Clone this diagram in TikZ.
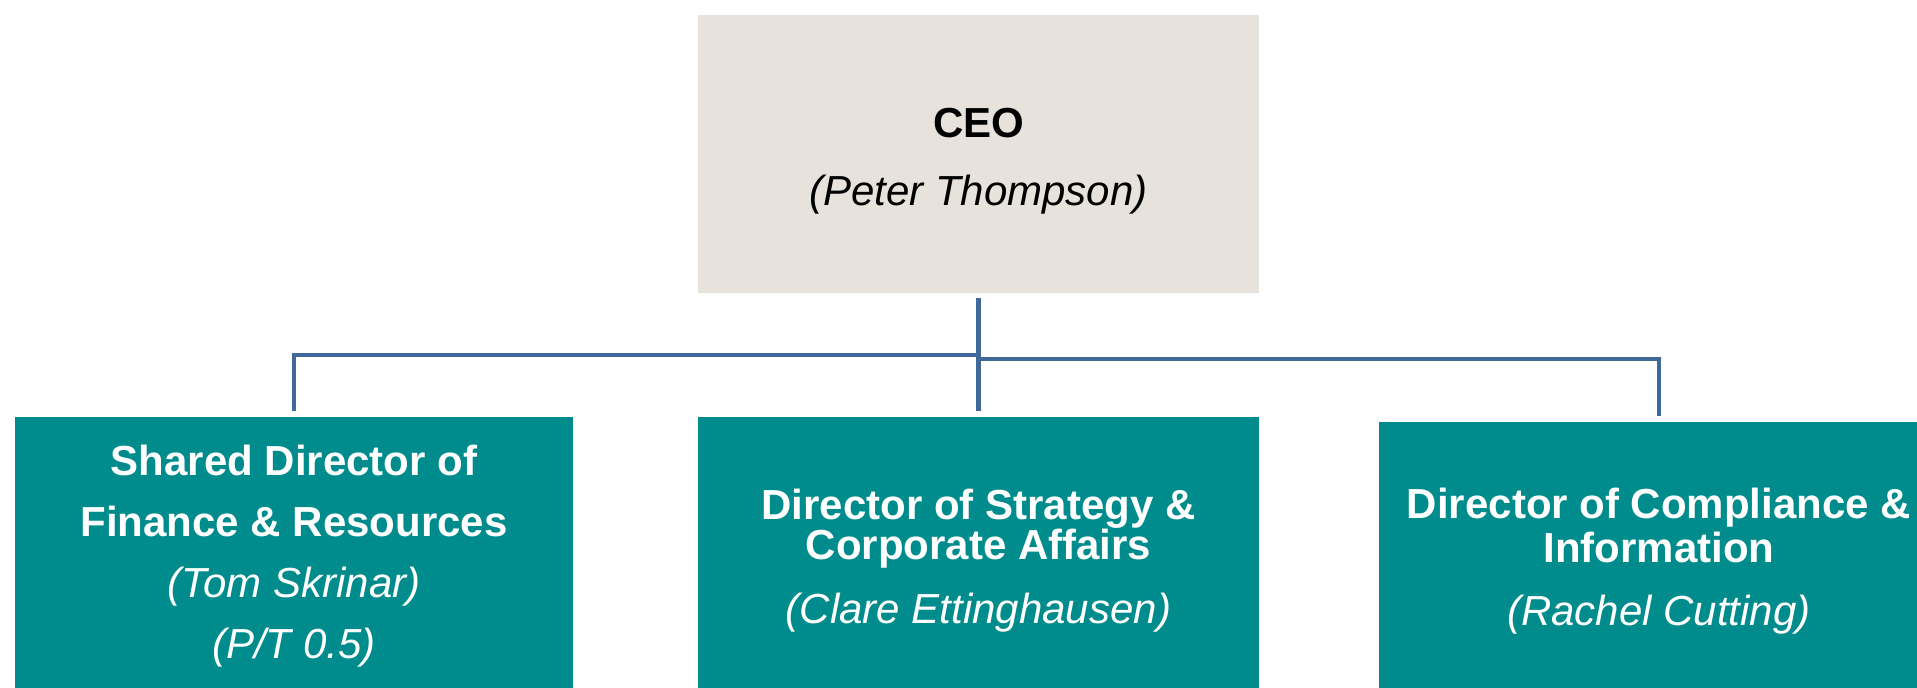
\documentclass[tikz,border=0pt]{standalone}
\usepackage{fontspec}
\setmainfont{Liberation Sans}
\definecolor{ceofill}{HTML}{E7E3DC}
\definecolor{teal2}{HTML}{008C8C}
\definecolor{linec}{HTML}{41689A}
\begin{document}
\begin{tikzpicture}[x=0.5pt,y=-0.5pt,
  box/.style={rectangle,inner sep=0pt,outer sep=0pt,minimum width=280.5pt,minimum height=139pt,align=center,anchor=north},
  ceobox/.style={box,fill=ceofill,text=black},
  dirbox/.style={box,fill=teal2,text=white},
  conn/.style={draw=linec,line width=2.4pt}]
\path[use as bounding box,clip] (0,0) rectangle (1917,687);
\fill[white] (0,0) rectangle (1917,687);
\node[ceobox,font={\fontsize{21}{34}\selectfont}] (ceo) at (978.5,15) {\rule{0pt}{21.5pt}\textbf{CEO}\\\textit{(Peter Thompson)}};
\node[dirbox,minimum width=279pt,font={\fontsize{21}{30.5}\selectfont}] (left) at (294,417) {\textbf{Shared Director of}\\\textbf{Finance \& Resources}\\\textit{(Tom Skrinar)}\\\textit{(P/T 0.5)}};
\node[dirbox,font={\fontsize{21}{20}\selectfont}] (mid) at (978.5,417) {\rule{0pt}{19.5pt}\textbf{Director of Strategy \&}\\\textbf{Corporate Affairs}\\[12pt]\textit{(Clare Ettinghausen)}};
\node[dirbox,font={\fontsize{21}{22}\selectfont}] (right) at (1659,422) {\textbf{Director of Compliance \&}\\\textbf{Information}\\[9.5pt]\textit{(Rachel Cutting)}};
\coordinate (j1) at (978.5,355);
\coordinate (j2) at (978.5,359);
\draw[conn] ([yshift=-2.5pt]ceo.south) -- ([yshift=3pt]mid.north);
\draw[conn] (j1) -| ([yshift=3pt]left.north);
\draw[conn] (j2) -| ([yshift=3pt]right.north);
\end{tikzpicture}
\end{document}
